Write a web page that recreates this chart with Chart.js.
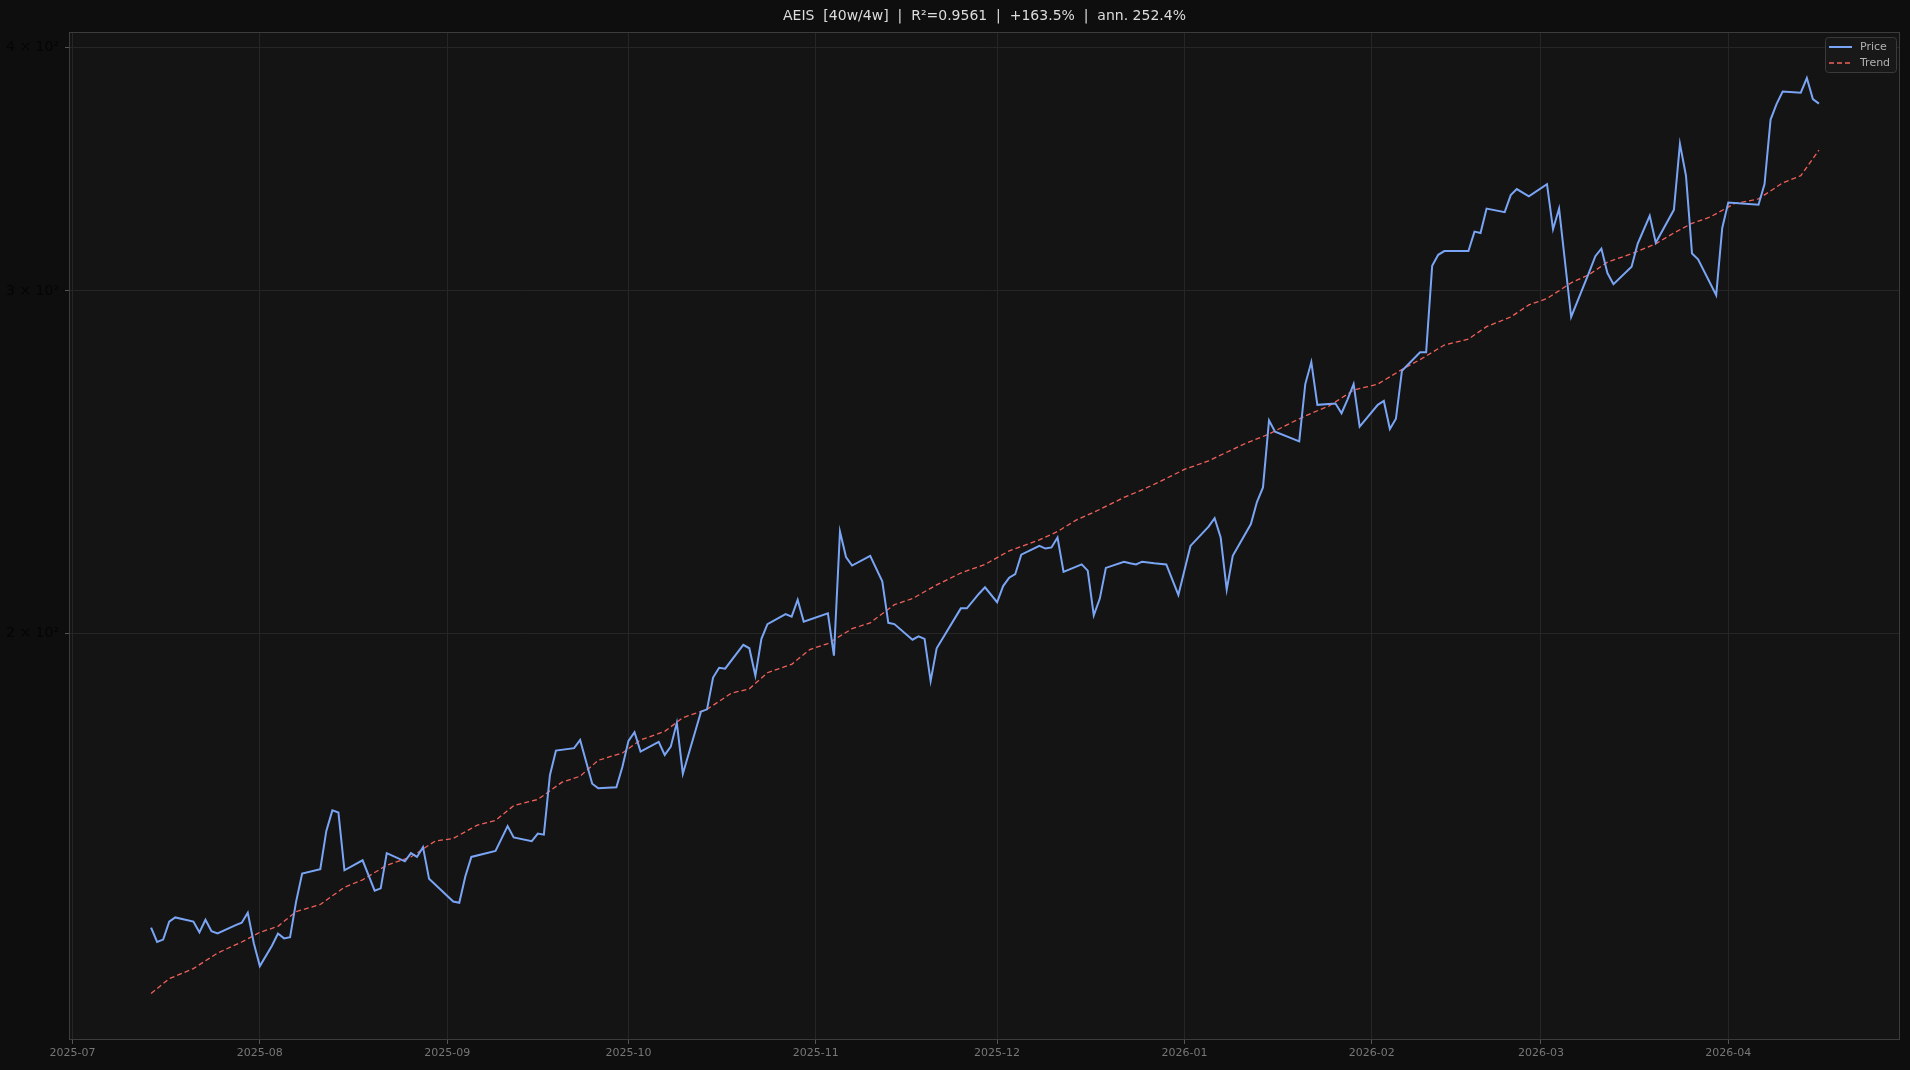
<!DOCTYPE html>
<html><head><meta charset="utf-8">
<script src="https://cdn.jsdelivr.net/npm/chart.js@4.4.1/dist/chart.umd.min.js"></script>
<style>html,body{margin:0;padding:0;background:#0e0e0e;}#wrap{width:1910px;height:1070px;}</style>
</head><body><div id="wrap"><canvas id="c" width="1910" height="1070"></canvas></div>
<script>
const TITLE = "AEIS  [40w/4w]  |  R\u00b2=0.9561  |  +163.5%  |  ann. 252.4%";
const priceDates = ["2025-07-14","2025-07-15","2025-07-16","2025-07-17","2025-07-18","2025-07-21","2025-07-22","2025-07-23","2025-07-24","2025-07-25","2025-07-28","2025-07-29","2025-07-30","2025-07-31","2025-08-01","2025-08-03","2025-08-04","2025-08-05","2025-08-06","2025-08-07","2025-08-08","2025-08-11","2025-08-12","2025-08-13","2025-08-14","2025-08-15","2025-08-18","2025-08-20","2025-08-21","2025-08-22","2025-08-25","2025-08-26","2025-08-27","2025-08-28","2025-08-29","2025-09-02","2025-09-03","2025-09-04","2025-09-05","2025-09-09","2025-09-11","2025-09-12","2025-09-15","2025-09-16","2025-09-17","2025-09-18","2025-09-19","2025-09-22","2025-09-23","2025-09-25","2025-09-26","2025-09-29","2025-09-30","2025-10-01","2025-10-02","2025-10-03","2025-10-06","2025-10-07","2025-10-08","2025-10-09","2025-10-10","2025-10-13","2025-10-14","2025-10-15","2025-10-16","2025-10-17","2025-10-20","2025-10-21","2025-10-22","2025-10-23","2025-10-24","2025-10-27","2025-10-28","2025-10-29","2025-10-30","2025-11-03","2025-11-04","2025-11-05","2025-11-06","2025-11-07","2025-11-10","2025-11-12","2025-11-13","2025-11-14","2025-11-17","2025-11-18","2025-11-19","2025-11-20","2025-11-21","2025-11-25","2025-11-26","2025-11-28","2025-11-29","2025-12-01","2025-12-02","2025-12-03","2025-12-04","2025-12-05","2025-12-08","2025-12-09","2025-12-10","2025-12-11","2025-12-12","2025-12-15","2025-12-16","2025-12-17","2025-12-18","2025-12-19","2025-12-22","2025-12-23","2025-12-24","2025-12-25","2025-12-27","2025-12-29","2025-12-31","2026-01-02","2026-01-05","2026-01-06","2026-01-07","2026-01-08","2026-01-09","2026-01-12","2026-01-13","2026-01-14","2026-01-15","2026-01-16","2026-01-20","2026-01-21","2026-01-22","2026-01-23","2026-01-26","2026-01-27","2026-01-28","2026-01-29","2026-01-30","2026-02-02","2026-02-03","2026-02-04","2026-02-05","2026-02-06","2026-02-09","2026-02-10","2026-02-11","2026-02-12","2026-02-13","2026-02-17","2026-02-18","2026-02-19","2026-02-20","2026-02-23","2026-02-24","2026-02-25","2026-02-27","2026-03-02","2026-03-03","2026-03-04","2026-03-06","2026-03-09","2026-03-10","2026-03-11","2026-03-12","2026-03-13","2026-03-16","2026-03-17","2026-03-19","2026-03-20","2026-03-23","2026-03-24","2026-03-25","2026-03-26","2026-03-27","2026-03-30","2026-03-31","2026-04-01","2026-04-06","2026-04-07","2026-04-08","2026-04-09","2026-04-10","2026-04-13","2026-04-14","2026-04-15","2026-04-16"];
const priceValues = [141.3,138.9,139.3,142.3,143.0,142.3,140.5,142.6,140.7,140.3,141.7,142.1,143.8,138.7,135.0,138.3,140.3,139.5,139.7,145.7,150.6,151.4,158.4,162.3,161.9,151.2,153.0,147.6,148.0,154.3,152.8,154.3,153.6,155.4,149.7,145.7,145.5,150.1,153.6,154.7,159.3,157.2,156.5,157.9,157.7,169.2,174.2,174.7,176.4,167.5,166.6,166.8,170.9,176.2,178.0,174.0,176.0,173.3,175.0,180.0,169.5,182.4,182.9,189.9,192.1,191.9,197.4,196.6,190.3,198.8,202.3,204.7,204.1,208.2,202.9,204.9,194.9,225.7,219.0,216.8,219.3,212.8,202.6,202.3,198.6,199.4,198.8,189.1,196.6,206.1,206.1,209.7,211.3,207.6,211.6,213.7,214.6,219.6,221.9,221.2,221.5,224.1,215.2,217.1,215.5,204.4,208.5,216.2,217.8,217.4,217.1,217.8,217.4,217.1,209.4,221.9,227.0,229.3,224.1,210.7,219.3,227.7,233.7,237.8,257.4,254.0,251.1,268.7,275.8,262.2,262.6,259.6,263.9,268.7,255.5,262.2,263.4,254.8,257.9,273.0,279.0,279.0,309.1,313.1,314.5,314.5,321.8,321.3,330.7,329.3,336.0,338.4,335.5,340.4,322.7,330.7,290.9,306.8,312.6,315.4,306.4,302.4,308.7,317.2,327.9,317.6,330.2,357.0,343.8,313.6,311.4,298.5,323.2,333.1,332.2,340.4,367.4,374.3,379.8,379.3,385.9,376.4,374.4];
const trendDates = ["2025-07-14","2025-07-17","2025-07-21","2025-07-25","2025-07-29","2025-08-01","2025-08-04","2025-08-07","2025-08-11","2025-08-15","2025-08-18","2025-08-22","2025-08-26","2025-08-30","2025-09-02","2025-09-06","2025-09-09","2025-09-12","2025-09-16","2025-09-20","2025-09-23","2025-09-26","2025-09-30","2025-10-03","2025-10-07","2025-10-10","2025-10-14","2025-10-18","2025-10-21","2025-10-24","2025-10-28","2025-10-31","2025-11-03","2025-11-07","2025-11-10","2025-11-14","2025-11-17","2025-11-21","2025-11-25","2025-11-29","2025-12-03","2025-12-08","2025-12-11","2025-12-14","2025-12-18","2025-12-22","2025-12-25","2025-12-28","2026-01-01","2026-01-05","2026-01-08","2026-01-11","2026-01-15","2026-01-19","2026-01-22","2026-01-25","2026-01-29","2026-02-02","2026-02-06","2026-02-09","2026-02-13","2026-02-17","2026-02-20","2026-02-24","2026-02-27","2026-03-02","2026-03-06","2026-03-09","2026-03-12","2026-03-16","2026-03-20","2026-03-23","2026-03-26","2026-03-29","2026-04-02","2026-04-06","2026-04-10","2026-04-13","2026-04-16"];
const trendValues = [130.7,133.0,134.6,137.1,138.9,140.5,141.5,144.0,145.2,148.2,149.5,152.1,153.6,156.5,157.0,159.5,160.4,163.2,164.4,167.8,169.0,172.2,173.7,176.4,178.2,181.1,182.9,186.4,187.4,191.0,192.9,196.3,197.7,201.2,202.6,207.0,208.5,211.9,214.9,217.1,220.6,223.5,225.7,228.7,231.7,235.0,237.1,239.5,242.9,245.4,247.9,250.4,253.3,257.0,259.6,261.9,266.8,268.7,273.4,276.6,281.4,283.4,287.6,290.9,295.1,297.3,302.9,305.9,310.4,313.5,317.2,321.3,325.0,327.4,332.6,334.5,340.9,343.8,354.4];
const monthTicks = ["2025-07-01","2025-08-01","2025-09-01","2025-10-01","2025-11-01","2025-12-01","2026-01-01","2026-02-01","2026-03-01","2026-04-01"];
const yTicks = [200,300,400];
const yTickLabels = ["2 \u00d7 10\u00b2","3 \u00d7 10\u00b2","4 \u00d7 10\u00b2"];

const t = s => Date.parse(s + "T00:00:00Z");
const pricePts = priceDates.map((d,i)=>({x:t(d),y:priceValues[i]}));
const trendPts = trendDates.map((d,i)=>({x:t(d),y:trendValues[i]}));

const bgPlugin = {
  id:'bg',
  beforeDraw(chart){
    const {ctx, chartArea:a} = chart;
    ctx.save();
    ctx.fillStyle='#0e0e0e'; ctx.fillRect(0,0,chart.width,chart.height);
    ctx.fillStyle='#141414'; ctx.fillRect(a.left,a.top,a.right-a.left,a.bottom-a.top);
    ctx.restore();
  },
  afterDraw(chart){
    const {ctx, chartArea:a} = chart;
    ctx.save();
    ctx.strokeStyle='#3c3c3c'; ctx.lineWidth=1;
    ctx.strokeRect(a.left+0.5,a.top+0.5,a.right-a.left-1,a.bottom-a.top-1);
    ctx.fillStyle='#dcdcdc'; ctx.font='14px "DejaVu Sans"'; ctx.textAlign='center'; ctx.textBaseline='middle';
    ctx.fillText(TITLE, (a.left+a.right)/2, 16);
    const bx=1825, by=37, bw=71, bh=35;
    ctx.fillStyle='#181818'; ctx.strokeStyle='#3a3a3a';
    ctx.beginPath(); ctx.roundRect(bx+0.5,by+0.5,bw,bh,3); ctx.fill(); ctx.stroke();
    ctx.font='11px "DejaVu Sans"'; ctx.textAlign='left'; ctx.fillStyle='#b0b0b0';
    chart.data.datasets.forEach((ds,i)=>{
      const yy = by+10+i*16;
      ctx.strokeStyle=ds.borderColor; ctx.lineWidth=i?1.3:2; ctx.setLineDash(ds.borderDash||[]);
      ctx.beginPath(); ctx.moveTo(bx+4,yy); ctx.lineTo(bx+27,yy); ctx.stroke();
      ctx.setLineDash([]);
      ctx.fillText(ds.label, bx+35, yy);
    });
    ctx.restore();
  }
};

new Chart(document.getElementById('c'), {
  type:'line',
  data:{datasets:[
    {label:'Price', data:pricePts, borderColor:'#7aa5f5', borderWidth:2, pointRadius:0, tension:0},
    {label:'Trend', data:trendPts, borderColor:'#f0605a', borderWidth:1.3, borderDash:[5,3], pointRadius:0, tension:0}
  ]},
  options:{
    responsive:false, animation:false, devicePixelRatio:1,
    layout:{padding:{top:32,right:10,left:0,bottom:0}},
    plugins:{legend:{display:false}, tooltip:{enabled:false}},
    scales:{
      x:{type:'linear', min:t("2025-06-30")+10*3600e3, max:t("2026-04-29")+10*3600e3,
        afterBuildTicks(s){ s.ticks = monthTicks.map(m=>({value:t(m)})); },
        afterFit(s){ s.height = 30; },
        ticks:{color:'#777', font:{size:11, family:'DejaVu Sans'}, padding:3, maxRotation:0, autoSkip:false,
          callback:(v)=>{ const i = monthTicks.findIndex(m=>t(m)===v); return i>=0 ? monthTicks[i].slice(0,7) : ''; }},
        grid:{color:'#262626', drawTicks:true, tickLength:4, tickColor:'#555'},
        border:{display:false}
      },
      y:{type:'logarithmic', min:123.7, max:407.5,
        afterBuildTicks(s){ s.ticks = yTicks.map(v=>({value:v})); },
        afterFit(s){ s.width = 69; },
        ticks:{color:'#050505', font:{size:14, family:'DejaVu Sans'}, padding:6,
          callback:(v)=>{ const i=yTicks.indexOf(v); return i>=0?yTickLabels[i]:''; }},
        grid:{color:'#262626', tickLength:4, tickColor:'#555'},
        border:{display:false}
      }
    }
  },
  plugins:[bgPlugin]
});
</script></body></html>
